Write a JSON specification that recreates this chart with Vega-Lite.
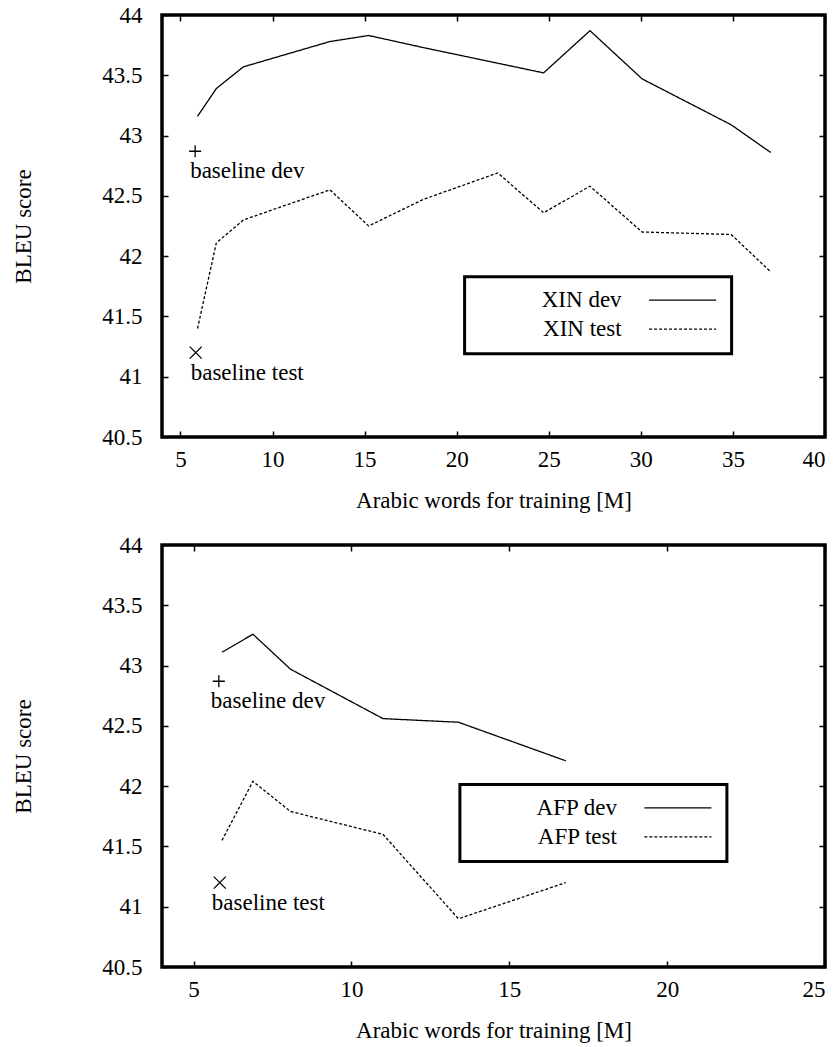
{
  "$schema": "https://vega.github.io/schema/vega-lite/v6.json",
  "background": "white",
  "padding": {"left": 11, "top": 2, "right": 0, "bottom": 0},
  "config": {
    "font": "Liberation Serif",
    "view": {"stroke": "black", "strokeWidth": 3.5},
    "text": {"font": "Liberation Serif"},
    "axis": {
      "labelFont": "Liberation Serif", "titleFont": "Liberation Serif",
      "labelFontSize": 23, "titleFontSize": 23, "titleFontWeight": "normal",
      "labelColor": "black", "titleColor": "black",
      "tickColor": "black", "tickWidth": 1.5, "tickSize": -6,
      "domain": false, "grid": false
    },
    "legend": {
      "title": null, "orient": "none",
      "symbolType": "M-10,0H10", "symbolSize": 45, "symbolStrokeWidth": 1.3, "symbolStrokeColor": "black", "symbolFillColor": "transparent",
      "symbolOffset": 194.5, "labelOffset": -72.5, "labelAlign": "right",
      "labelFont": "Liberation Serif", "labelFontSize": 23, "labelColor": "black", "labelLimit": 0,
      "rowPadding": 5, "padding": 12,
      "strokeColor": "black", "fillColor": "white"
    }
  },
  "spacing": 108,
  "bounds": "flush",
  "resolve": {"scale": {"strokeDash": "independent", "x": "independent", "shape": "independent"}, "legend": {"strokeDash": "independent"}},
  "datasets": {
    "xin": [
      {"series": "XIN dev", "x": 5.93, "y": 43.16},
      {"series": "XIN dev", "x": 6.95, "y": 43.39},
      {"series": "XIN dev", "x": 8.42, "y": 43.57},
      {"series": "XIN dev", "x": 13.12, "y": 43.78},
      {"series": "XIN dev", "x": 15.22, "y": 43.83},
      {"series": "XIN dev", "x": 18.18, "y": 43.73},
      {"series": "XIN dev", "x": 22.23, "y": 43.60},
      {"series": "XIN dev", "x": 24.72, "y": 43.52},
      {"series": "XIN dev", "x": 27.24, "y": 43.87},
      {"series": "XIN dev", "x": 30.07, "y": 43.47},
      {"series": "XIN dev", "x": 34.9, "y": 43.09},
      {"series": "XIN dev", "x": 37.05, "y": 42.86},
      {"series": "XIN test", "x": 5.93, "y": 41.40},
      {"series": "XIN test", "x": 6.95, "y": 42.11},
      {"series": "XIN test", "x": 8.42, "y": 42.30},
      {"series": "XIN test", "x": 13.12, "y": 42.55},
      {"series": "XIN test", "x": 15.22, "y": 42.25},
      {"series": "XIN test", "x": 18.18, "y": 42.47},
      {"series": "XIN test", "x": 22.23, "y": 42.69},
      {"series": "XIN test", "x": 24.72, "y": 42.36},
      {"series": "XIN test", "x": 27.24, "y": 42.58},
      {"series": "XIN test", "x": 30.07, "y": 42.20},
      {"series": "XIN test", "x": 34.9, "y": 42.18},
      {"series": "XIN test", "x": 37.05, "y": 41.87}
    ],
    "afp": [
      {"series": "AFP dev", "x": 5.90, "y": 43.11},
      {"series": "AFP dev", "x": 6.88, "y": 43.26},
      {"series": "AFP dev", "x": 8.07, "y": 42.97},
      {"series": "AFP dev", "x": 11.0, "y": 42.56},
      {"series": "AFP dev", "x": 13.39, "y": 42.53},
      {"series": "AFP dev", "x": 16.79, "y": 42.21},
      {"series": "AFP test", "x": 5.90, "y": 41.55},
      {"series": "AFP test", "x": 6.88, "y": 42.04},
      {"series": "AFP test", "x": 8.07, "y": 41.79},
      {"series": "AFP test", "x": 11.0, "y": 41.60},
      {"series": "AFP test", "x": 13.39, "y": 40.90},
      {"series": "AFP test", "x": 16.79, "y": 41.20}
    ],
    "base": [
      {"kind": "dev", "label": "baseline dev", "x": 5.8, "y": 42.87},
      {"kind": "test", "label": "baseline test", "x": 5.83, "y": 41.2}
    ]
  },
  "vconcat": [
    {
      "width": 663, "height": 422,
      "resolve": {"axis": {"x": "independent", "y": "independent"}},
      "layer": [
        {
          "data": {"name": "xin"},
          "mark": {"type": "line", "color": "black", "strokeWidth": 1.3},
          "encoding": {
            "x": {"field": "x", "type": "quantitative",
              "scale": {"domain": [4, 40], "nice": false, "zero": false},
              "axis": {"orient": "bottom", "values": [5, 10, 15, 20, 25, 30, 35, 40], "title": "Arabic words for training [M]", "labelFont": "Liberation Serif", "titleFont": "Liberation Serif", "labelPadding": 17, "titlePadding": 18}},
            "y": {"field": "y", "type": "quantitative",
              "scale": {"domain": [40.5, 44], "nice": false, "zero": false},
              "axis": {"orient": "left", "values": [40.5, 41, 41.5, 42, 42.5, 43, 43.5, 44], "format": "~f", "title": "BLEU score", "labelFont": "Liberation Serif", "titleFont": "Liberation Serif", "labelPadding": 26, "titlePadding": 66}},
            "strokeDash": {"field": "series", "type": "nominal",
              "scale": {"domain": ["XIN dev", "XIN test"], "range": [[1, 0], [3, 2]]},
              "legend": {
                "legendX": 302.6, "legendY": 261.7,
                "encode": {"legend": {"update": {"strokeWidth": {"value": 3}}}}
              }}
          }
        },
        {
          "data": {"name": "base"},
          "mark": {"type": "point", "filled": false, "color": "black", "strokeWidth": 1.3, "size": 144, "opacity": 1},
          "encoding": {
            "x": {"field": "x", "type": "quantitative", "scale": {"domain": [4, 40], "nice": false, "zero": false},
              "axis": {"orient": "top", "values": [5, 10, 15, 20, 25, 30, 35, 40], "labels": false, "title": null}},
            "y": {"field": "y", "type": "quantitative", "scale": {"domain": [40.5, 44], "nice": false, "zero": false},
              "axis": {"orient": "right", "values": [40.5, 41, 41.5, 42, 42.5, 43, 43.5, 44], "labels": false, "title": null}},
            "shape": {"field": "kind", "type": "nominal", "scale": {"domain": ["dev", "test"], "range": ["M-1,0H1M0,-1V1", "M-1,-1L1,1M-1,1L1,-1"]}, "legend": null}
          }
        },
        {
          "data": {"name": "base"},
          "mark": {"type": "text", "align": "left", "baseline": "middle", "dx": -5, "dy": 20, "fontSize": 23, "font": "Liberation Serif", "color": "black"},
          "encoding": {
            "x": {"field": "x", "type": "quantitative", "axis": null},
            "y": {"field": "y", "type": "quantitative", "axis": null},
            "text": {"field": "label"}
          }
        }
      ]
    },
    {
      "width": 663, "height": 422,
      "resolve": {"axis": {"x": "independent", "y": "independent"}},
      "layer": [
        {
          "data": {"name": "afp"},
          "mark": {"type": "line", "color": "black", "strokeWidth": 1.3},
          "encoding": {
            "x": {"field": "x", "type": "quantitative",
              "scale": {"domain": [4, 25], "nice": false, "zero": false},
              "axis": {"orient": "bottom", "values": [5, 10, 15, 20, 25], "title": "Arabic words for training [M]", "labelFont": "Liberation Serif", "titleFont": "Liberation Serif", "labelPadding": 17, "titlePadding": 18}},
            "y": {"field": "y", "type": "quantitative",
              "scale": {"domain": [40.5, 44], "nice": false, "zero": false},
              "axis": {"orient": "left", "values": [40.5, 41, 41.5, 42, 42.5, 43, 43.5, 44], "format": "~f", "title": "BLEU score", "labelFont": "Liberation Serif", "titleFont": "Liberation Serif", "labelPadding": 26, "titlePadding": 66}},
            "strokeDash": {"field": "series", "type": "nominal",
              "scale": {"domain": ["AFP dev", "AFP test"], "range": [[1, 0], [3, 2]]},
              "legend": {
                "legendX": 297.9, "legendY": 239.4,
                "encode": {"legend": {"update": {"strokeWidth": {"value": 3}}}}
              }}
          }
        },
        {
          "data": {"name": "base"},
          "mark": {"type": "point", "filled": false, "color": "black", "strokeWidth": 1.3, "size": 144, "opacity": 1},
          "encoding": {
            "x": {"field": "x", "type": "quantitative", "scale": {"domain": [4, 25], "nice": false, "zero": false},
              "axis": {"orient": "top", "values": [5, 10, 15, 20, 25], "labels": false, "title": null}},
            "y": {"field": "y", "type": "quantitative", "scale": {"domain": [40.5, 44], "nice": false, "zero": false},
              "axis": {"orient": "right", "values": [40.5, 41, 41.5, 42, 42.5, 43, 43.5, 44], "labels": false, "title": null}},
            "shape": {"field": "kind", "type": "nominal", "scale": {"domain": ["dev", "test"], "range": ["M-1,0H1M0,-1V1", "M-1,-1L1,1M-1,1L1,-1"]}, "legend": null}
          }
        },
        {
          "data": {"name": "base"},
          "mark": {"type": "text", "align": "left", "baseline": "middle", "dx": -8, "dy": 20, "fontSize": 23, "font": "Liberation Serif", "color": "black"},
          "encoding": {
            "x": {"field": "x", "type": "quantitative", "axis": null},
            "y": {"field": "y", "type": "quantitative", "axis": null},
            "text": {"field": "label"}
          }
        }
      ]
    }
  ]
}
